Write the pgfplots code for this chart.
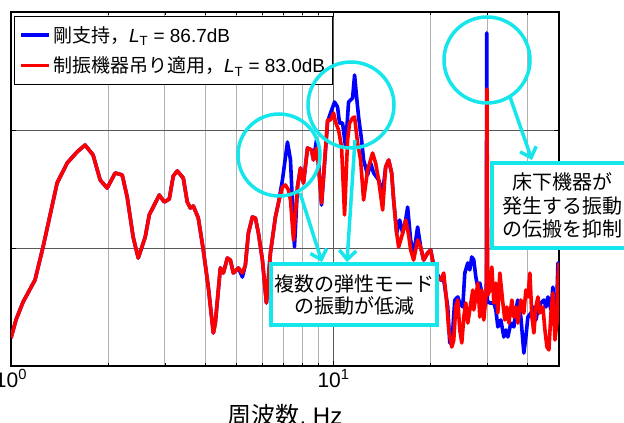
\documentclass[border=0pt]{standalone}
\usepackage{fontspec}
\setmainfont{Liberation Sans}
\newfontfamily\jp{Noto Sans CJK JP}
\usepackage{pgfplots}
\pgfplotsset{compat=1.18}
\usetikzlibrary{arrows.meta}
\definecolor{ann}{RGB}{20,230,235}
\definecolor{myblue}{RGB}{0,0,255}
\definecolor{myred}{RGB}{255,0,0}
\newcommand{\lgf}{\fontsize{19}{22}\selectfont}

\begin{document}
\begin{tikzpicture}[x=1pt,y=1pt]
\path[use as bounding box, clip] (0,0) rectangle (624,423);
\begin{axis}[
  at={(11pt,57pt)}, anchor=south west,
  scale only axis, width=548pt, height=354pt,
  xmode=log, xmin=1, xmax=50, ymin=50, ymax=80,
  xtick={1,10}, xticklabels={10\textsuperscript{0},10\textsuperscript{1}},
  minor xtick={2,3,4,5,6,7,8,9,20,30,40},
  ytick={60,70}, yticklabels={},
  xmajorgrids, xminorgrids, ymajorgrids,
  major grid style={draw=black!65, line width=0.8pt},
  minor grid style={draw=black!30, line width=0.8pt},
  axis line style={line width=1.3pt},
  tick style={black, line width=0.6pt},
  major tick length=5pt, minor tick length=3pt,
  xticklabel style={font=\fontsize{21}{21}\selectfont},
  xlabel={{\jp 周波数}, Hz},
  xlabel style={font=\fontsize{24}{24}\selectfont, yshift=-10pt},
  legend style={at={(0,1)}, anchor=north west, xshift=3pt, yshift=-4pt,
    draw=black, line width=1pt, fill=white, inner xsep=5pt, inner ysep=8pt,
    font=\lgf, nodes={font=\lgf}, row sep=9pt},
  legend cell align=left,
  legend image code/.code={\draw[#1] (0pt,0pt) -- (28pt,0pt);},
  every axis plot/.append style={line width=3.6pt, line join=round},
]
\addplot[myblue] coordinates {
(1.000,52.37)(1.036,53.90)(1.090,55.42)(1.187,57.29)(1.257,60.08)(1.390,65.51)(1.493,67.20)(1.603,68.14)(1.697,68.73)(1.797,67.88)(1.890,65.76)(1.987,65.08)(2.104,66.36)(2.212,66.19)(2.292,64.32)(2.392,60.93)(2.480,59.15)(2.607,60.93)(2.683,62.80)(2.882,64.49)(2.986,63.90)(3.095,64.15)(3.185,66.10)(3.277,66.53)(3.421,65.93)(3.520,63.90)(3.597,63.39)(3.675,63.56)(3.808,62.54)(3.947,59.83)(4.090,56.69)(4.239,52.80)(4.300,53.64)(4.457,58.31)(4.554,57.88)(4.686,59.15)(4.787,58.98)(4.891,57.88)(5.069,58.31)(5.216,57.54)(5.329,58.56)(5.445,61.27)(5.603,62.63)(5.724,62.54)(5.848,61.27)(6.018,58.98)(6.193,55.34)(6.373,59.58)(6.604,62.63)(6.748,63.81)
(6.943,65.76)(7.197,68.98)(7.353,67.46)(7.567,60.08)(7.731,65.17)(7.898,66.78)(8.070,65.51)(8.304,68.47)(8.545,68.31)(8.668,67.46)(8.856,69.15)(8.984,67.20)(9.179,63.64)(9.311,66.02)(9.582,70.68)(9.788,71.44)(10.072,72.37)(10.290,71.95)(10.438,70.59)(10.665,70.59)(10.896,68.56)(11.133,72.37)(11.456,72.71)(11.621,74.66)(11.788,72.80)(11.958,71.10)(12.217,69.15)(12.393,67.46)(12.753,66.19)(13.030,67.20)(13.313,66.36)(13.797,65.76)(14.197,64.66)(14.505,66.86)(14.819,67.46)(15.140,66.36)(15.358,64.07)(15.691,61.27)(16.032,62.37)(16.379,61.27)(16.734,62.37)(16.971,63.47)(17.339,60.68)(17.715,59.41)(18.229,61.78)(18.624,60.08)(19.027,58.98)(19.579,59.58)(20.007,59.83)(20.441,58.56)(21.036,57.71)
(21.492,57.29)(21.957,57.29)(22.598,55.00)(22.925,51.95)(23.422,53.05)(23.759,55.59)(24.275,55.85)(24.626,55.34)(25.158,55.00)(25.521,57.88)(26.074,58.73)(26.449,58.14)(26.827,59.24)(27.215,58.98)(27.611,57.54)(28.011,56.69)(28.414,57.03)(29.029,55.85)(29.446,55.00)(29.75,55.5)(29.85,78.22)(30.0,55.5)(30.518,55.34)(31.403,55.34)(31.855,54.75)(32.314,53.31)(33.014,53.90)(33.730,52.46)(34.216,53.05)(34.709,52.46)(35.462,53.64)(36.231,53.31)(36.747,54.75)(37.276,55.59)(38.085,54.15)(38.910,51.10)(39.472,52.46)(40.040,54.15)(40.909,54.49)(41.797,55.00)(42.400,53.90)(43.010,54.75)(43.943,55.34)(44.897,55.59)(45.544,55.00)(46.201,55.85)(47.204,54.75)(47.873,56.69)(48.565,53.05)(49.264,55.85)(49.617,58.73)(50.0,58.73)
};
\addlegendentry{\lgf{\jp 剛支持，}\textit{L}\textsubscript{T} = 86.7dB}
\addplot[myred] coordinates {
(1.000,52.37)(1.036,53.90)(1.090,55.42)(1.187,57.29)(1.257,60.08)(1.390,65.51)(1.493,67.20)(1.603,68.14)(1.697,68.73)(1.797,67.88)(1.890,65.76)(1.987,65.08)(2.104,66.36)(2.212,66.19)(2.292,64.32)(2.392,60.93)(2.480,59.15)(2.607,60.93)(2.683,62.80)(2.882,64.49)(2.986,63.90)(3.095,64.15)(3.185,66.10)(3.277,66.53)(3.421,65.93)(3.520,63.90)(3.597,63.39)(3.675,63.56)(3.808,62.54)(3.947,59.83)(4.090,56.69)(4.239,52.80)(4.300,53.64)(4.457,58.31)(4.554,57.88)(4.686,59.15)(4.787,58.98)(4.891,57.88)(5.069,58.31)(5.216,57.88)(5.329,58.56)(5.445,61.27)(5.603,62.63)(5.724,62.54)(5.848,61.27)(6.018,58.98)(6.193,55.34)(6.373,59.58)(6.604,62.63)(6.748,63.81)
(6.943,65.17)(7.094,65.34)(7.249,64.92)(7.353,64.07)(7.513,60.68)(7.731,65.17)(7.898,66.78)(8.070,65.51)(8.304,68.47)(8.545,68.31)(8.668,67.46)(8.856,68.47)(8.984,66.86)(9.179,63.81)(9.311,66.02)(9.582,70.85)(9.788,70.85)(10.0,71.44)(10.144,70.68)(10.364,70.00)(10.588,68.56)(10.818,62.80)(11.053,69.15)(11.213,70.59)(11.456,71.02)(11.621,71.10)(11.872,68.90)(12.130,67.46)(12.393,64.07)(12.753,66.61)(13.218,68.05)(13.505,67.20)(13.797,65.76)(14.197,63.22)(14.505,66.86)(14.819,67.46)(15.140,66.36)(15.358,64.07)(15.691,61.27)(15.917,60.08)(16.379,61.27)(16.734,62.37)(17.093,61.10)(17.339,59.83)(17.715,58.98)(18.229,60.68)(18.624,60.08)(19.027,58.98)(19.579,59.58)(20.007,59.83)(20.441,58.39)(21.036,57.54)
(21.492,57.29)(21.957,57.88)(22.437,55.34)(22.761,53.05)(23.256,51.61)(23.590,52.20)(23.930,55.00)(24.275,55.59)(24.626,53.05)(24.980,51.95)(25.339,54.15)(25.704,55.34)(26.074,53.64)(26.449,54.75)(27.025,56.44)(27.215,54.75)(27.611,55.85)(28.011,57.03)(28.414,54.15)(28.816,56.44)(29.234,53.90)(29.656,55.85)(29.80,57.0)(29.90,73.47)(30.05,56.0)(30.518,56.44)(30.961,58.39)(31.403,55.34)(31.855,57.03)(32.314,54.49)(32.779,57.88)(33.490,55.34)(33.973,53.90)(34.461,55.00)(34.959,53.64)(35.716,55.59)(36.231,54.15)(36.747,55.00)(37.276,53.64)(38.085,55.59)(38.910,54.49)(39.472,56.44)(40.040,55.85)(40.617,57.88)(41.203,54.15)(41.797,52.80)(42.400,55.00)(43.010,55.85)(43.630,54.49)(44.576,55.00)(45.219,53.05)(45.871,51.61)(46.520,51.36)(47.204,54.49)(47.873,56.19)(48.565,52.20)(49.264,53.64)(49.617,57.29)(50.0,58.73)
};
\addlegendentry{\lgf{\jp 制振機器吊り適用，}\textit{L}\textsubscript{T} = 83.0dB}
\end{axis}
% annotations (pixel frame, y measured from bottom)
\begin{scope}[draw=ann, line width=3.5pt]
\draw (279,268) circle (41);
\draw (351,318) circle (43);
\draw (487,363) circle (43);
\draw[-{Straight Barb[length=9pt,width=17pt]}] (300,230) -- (322,161);
\draw[-{Straight Barb[length=9pt,width=17pt]}] (355,283) -- (347,161);
\draw[-{Straight Barb[length=9pt,width=17pt]}] (510,326) -- (532,263);
\draw[fill=white] (271,159) rectangle (437,98);
\draw[fill=white] (492,260) rectangle (632,175);
\end{scope}
\node[align=center, font=\jp\fontsize{20}{22}\selectfont] at (354,128.5) {複数の弾性モード\\の振動が低減};
\node[align=center, font=\jp\fontsize{20}{23.5}\selectfont] at (562,217.5) {床下機器が\\発生する振動\\の伝搬を抑制};
\end{tikzpicture}
\end{document}
